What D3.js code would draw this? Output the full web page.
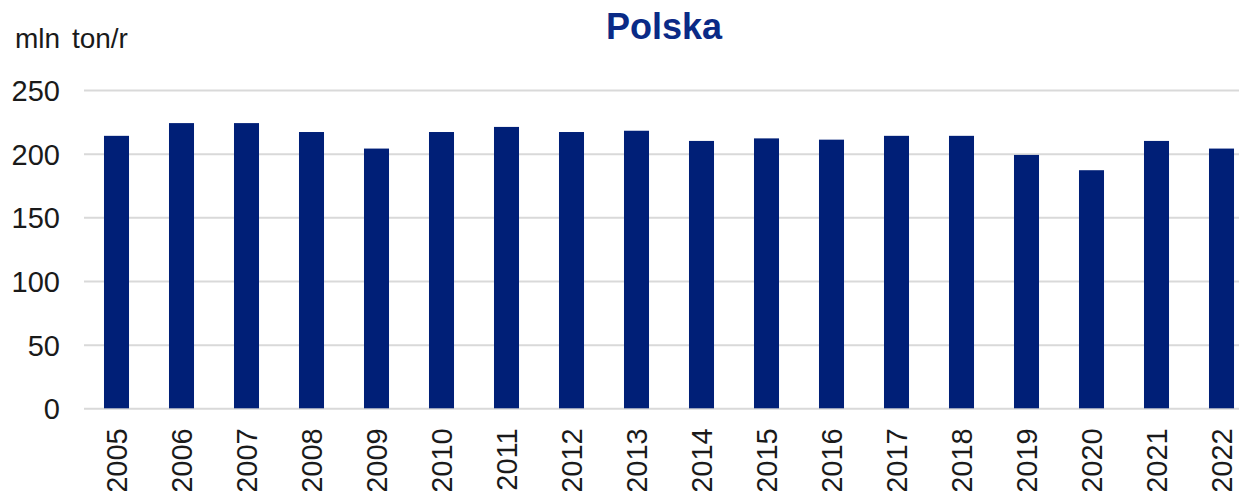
<!DOCTYPE html>
<html>
<head>
<meta charset="utf-8">
<script src="https://cdn.jsdelivr.net/npm/d3@7"></script>
<style>
  html, body { margin: 0; padding: 0; background: #fff; }
  svg { display: block; font-family: "Liberation Sans", Arial, sans-serif; }
</style>
</head>
<body>
<svg id="chart" width="1239" height="491"></svg>
<script>
const years = ["2005","2006","2007","2008","2009","2010","2011","2012","2013","2014","2015","2016","2017","2018","2019","2020","2021","2022"];
const values = [214, 224, 224, 217, 204, 217, 221, 217, 218, 210, 212, 211, 214, 214, 199, 187, 210, 204];
const yTicks = [0, 50, 100, 150, 200, 250];
const title = "Polska";
const unitLabel = "mln ton/r";

const svg = d3.select("#chart");
const x = d3.scaleBand().domain(years).range([84, 1254]).paddingInner(0.615).paddingOuter(0.3075);
const y = d3.scaleLinear().domain([0, 250]).range([408.3, 90]);

// gridlines
const yAxis = d3.axisLeft(y).tickValues(yTicks).tickSize(-(1254 - 84)).tickPadding(24);
const gy = svg.append("g").attr("transform", "translate(84,0)").call(yAxis);
gy.select(".domain").remove();
gy.selectAll(".tick line").attr("stroke", "#d9d9d9").attr("stroke-width", 2);
gy.selectAll(".tick text").attr("font-size", 29).attr("fill", "#1a1a1a")
  .attr("font-family", "Liberation Sans, Arial, sans-serif").attr("dy", "0.36em");

// bars
svg.append("g").selectAll("rect").data(values).join("rect")
  .attr("x", (d, i) => x(years[i]))
  .attr("width", x.bandwidth())
  .attr("y", d => y(d))
  .attr("height", d => y(0) - y(d))
  .attr("fill", "#001f77");

// x axis labels
const xAxis = d3.axisBottom(x).tickSize(0).tickPadding(0);
const gx = svg.append("g").attr("transform", `translate(0,${y(0)})`).call(xAxis);
gx.select(".domain").remove();
gx.selectAll(".tick text")
  .attr("font-size", 29).attr("fill", "#1a1a1a")
  .attr("font-family", "Liberation Sans, Arial, sans-serif")
  .attr("text-anchor", "end")
  .attr("transform", "rotate(-90)")
  .attr("x", -20).attr("y", 0).attr("dy", "0.36em");

// title
svg.append("text").attr("x", 664).attr("y", 39).attr("text-anchor", "middle")
  .attr("font-size", 36).attr("font-weight", "bold").attr("fill", "#0a2a86")
  .text(title);

// unit label
svg.append("text").attr("x", 15).attr("y", 48)
  .attr("font-size", 28).attr("fill", "#1a1a1a")
  .attr("word-spacing", 4)
  .text(unitLabel);
</script>
</body>
</html>
